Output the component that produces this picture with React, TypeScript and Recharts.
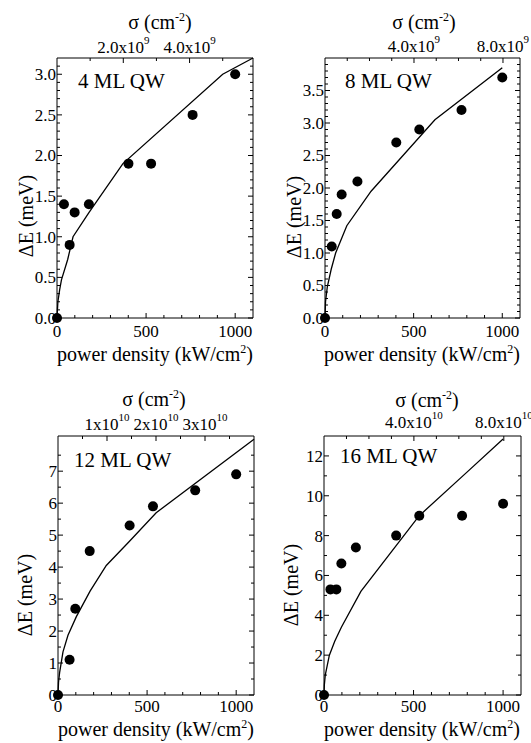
import React from 'react';
import { ComposedChart, Line, Scatter, XAxis, YAxis } from 'recharts';

const FONT = '"Liberation Serif", "Times New Roman", serif';

// measured points (power density kW/cm2, shift meV)
const pd4 = [0, 39, 71, 99, 179, 401, 528, 761, 1000];
const dE4 = [0, 1.4, 0.9, 1.3, 1.4, 1.9, 1.9, 2.5, 3.0];
const pd8 = [0, 38, 66, 94, 183, 402, 532, 770, 1000];
const dE8 = [0, 1.1, 1.6, 1.9, 2.1, 2.7, 2.9, 3.2, 3.7];
const pd12 = [0, 65, 97, 178, 402, 533, 770, 1000];
const dE12 = [0, 1.1, 2.7, 4.5, 5.3, 5.9, 6.4, 6.9];
const pd16 = [0, 36, 69, 97, 178, 403, 532, 771, 1000];
const dE16 = [0, 5.3, 5.3, 6.6, 7.4, 8.0, 9.0, 9.0, 9.6];

// calculated curves
const fitPd4 = [0, 5, 15, 25, 60, 90, 180, 370, 930, 1100];
const fitE4 = [0, 0.2, 0.35, 0.47, 0.72, 1.0, 1.3, 1.9, 3.0, 3.2];
const fitPd8 = [0, 3, 13, 35, 60, 123, 260, 620, 1000];
const fitE8 = [0, 0.25, 0.48, 0.75, 1.0, 1.42, 1.95, 3.05, 3.85];
const fitPd12 = [0, 3, 9, 28, 56, 103, 180, 271, 400, 551, 1100];
const fitE12 = [0, 0.4, 0.7, 1.35, 1.87, 2.45, 3.25, 4.05, 4.8, 5.7, 8.0];
const fitPd16 = [0, 2, 7, 30, 60, 97, 206, 532, 800, 1000];
const fitE16 = [0, 0.5, 1.0, 2.0, 2.7, 3.4, 5.2, 9.0, 11.2, 12.85];

const range = (a: number, b: number, s: number) => {
  const out: number[] = [];
  for (let v = a; v <= b + 1e-9; v += s) out.push(Math.round(v * 1000) / 1000);
  return out;
};
const pdTicks = range(0, 1000, 100);
const pdMajors = [0, 500, 1000];

const yMajors4 = [0, 0.5, 1.0, 1.5, 2.0, 2.5, 3.0];
const yMajors8 = [0, 0.5, 1.0, 1.5, 2.0, 2.5, 3.0, 3.5];
const yMajors12 = [0, 1, 2, 3, 4, 5, 6, 7];
const yMajors16 = [0, 2, 4, 6, 8, 10, 12];

// top axis: sigma (cm^-2), 1e9 units (4, 8 ML) or 1e10 units (12, 16 ML)
const sigTicks4 = [1, 2, 3, 4, 5];
const sigMajors4 = [2, 4];
const sigLabels4 = ['2.0x10|9', '4.0x10|9'];
const sigTicks8 = [1, 2, 3, 4, 5, 6, 7, 8];
const sigMajors8 = [4, 8];
const sigLabels8 = ['4.0x10|9', '8.0x10|9'];
const sigTicks12 = [0.5, 1, 1.5, 2, 2.5, 3, 3.5];
const sigMajors12 = [1, 2, 3];
const sigLabels12 = ['1x10|10', '2x10|10', '3x10|10'];
const sigTicks16 = [1, 2, 3, 4, 5, 6, 7, 8];
const sigMajors16 = [4, 8];
const sigLabels16 = ['4.0x10|10', '8.0x10|10'];
// kW/cm2 per sigma unit
const sigScale = [186, 125.5, 275, 125.5];

const near = (arr: number[], v: number) => arr.findIndex((m) => Math.abs(m - v) < 1e-6);

const panels = [
  {
    name: '4 ML QW', pd: pd4, dE: dE4, fitPd: fitPd4, fitE: fitE4,
    box: { x: 0, y: 0, w: 265, h: 372 }, plot: { l: 57, t: 58, r: 253, b: 318 },
    yDomain: [0, 3.2], yTicks: range(0, 3.1, 0.1), yMajors: yMajors4, dec: 1,
    k: sigScale[0], sigTicks: sigTicks4, sigMajors: sigMajors4, sigLabels: sigLabels4,
    sigX: 160, sigY: 29, topLabY: 53, botX: 155, botY: 361, yTX: 33, yTY: 216, annX: 78, annY: 88, tickY: 337,
  },
  {
    name: '8 ML QW', pd: pd8, dE: dE8, fitPd: fitPd8, fitE: fitE8,
    box: { x: 265, y: 0, w: 266, h: 372 }, plot: { l: 325, t: 58, r: 520, b: 318 },
    yDomain: [0, 4.0], yTicks: range(0, 3.9, 0.1), yMajors: yMajors8, dec: 1,
    k: sigScale[1], sigTicks: sigTicks8, sigMajors: sigMajors8, sigLabels: sigLabels8,
    sigX: 424, sigY: 29, topLabY: 52, botX: 422, botY: 361, yTX: 301, yTY: 217, annX: 345, annY: 88, tickY: 337,
  },
  {
    name: '12 ML QW', pd: pd12, dE: dE12, fitPd: fitPd12, fitE: fitE12,
    box: { x: 0, y: 372, w: 265, h: 371 }, plot: { l: 58, t: 436, r: 254, b: 695 },
    yDomain: [0, 8.1], yTicks: range(0, 7.5, 0.5), yMajors: yMajors12, dec: 0,
    k: sigScale[2], sigTicks: sigTicks12, sigMajors: sigMajors12, sigLabels: sigLabels12,
    sigX: 154, sigY: 406, topLabY: 430, botX: 156, botY: 736, yTX: 32, yTY: 595, annX: 74, annY: 467, tickY: 712,
  },
  {
    name: '16 ML QW', pd: pd16, dE: dE16, fitPd: fitPd16, fitE: fitE16,
    box: { x: 265, y: 372, w: 266, h: 371 }, plot: { l: 324, t: 436, r: 521, b: 695 },
    yDomain: [0, 13], yTicks: range(0, 12, 1), yMajors: yMajors16, dec: 0,
    k: sigScale[3], sigTicks: sigTicks16, sigMajors: sigMajors16, sigLabels: sigLabels16,
    sigX: 427, sigY: 407, topLabY: 428, botX: 422, botY: 736, yTX: 298, yTY: 585, annX: 340, annY: 463, tickY: 712,
  },
];

const MAJ = 5;
const MIN = 3;
const TICK_FS = 17;
const txt = { fontFamily: FONT, fill: '#000' };

function BottomTick(t: any) {
  const v = t.payload?.value;
  const major = near(pdMajors, v) >= 0;
  return (
    <g>
      <line x1={t.x} x2={t.x} y1={t.y} y2={t.y - (major ? MAJ : MIN)} stroke="#000" />
      {major && (
        <text x={t.x} y={t.labelY} textAnchor="middle" fontSize={TICK_FS} style={txt}>
          {v}
        </text>
      )}
    </g>
  );
}

function TopTick(t: any) {
  const s = t.payload?.value / t.k;
  const idx = near(t.majors, s);
  const parts = idx >= 0 ? t.labels[idx].split('|') : null;
  return (
    <g>
      <line x1={t.x} x2={t.x} y1={t.y} y2={t.y + (parts ? MAJ : MIN)} stroke="#000" />
      {parts && (
        <text x={t.x} y={t.labelY} textAnchor="middle" fontSize={TICK_FS} style={txt}>
          {parts[0]}
          <tspan dy={-9} fontSize={11}>{parts[1]}</tspan>
        </text>
      )}
    </g>
  );
}

function LeftTick(t: any) {
  const v = t.payload?.value;
  const major = near(t.majors, v) >= 0;
  return (
    <g>
      <line x1={t.x} x2={t.x + (major ? MAJ : MIN)} y1={t.y} y2={t.y} stroke="#000" />
      {major && (
        <text x={t.x - 1} y={t.y} dy="0.35em" textAnchor="end" fontSize={TICK_FS} style={txt}>
          {v.toFixed(t.dec)}
        </text>
      )}
    </g>
  );
}

function RightTick(t: any) {
  const major = near(t.majors, t.payload?.value) >= 0;
  return <line x1={t.x} x2={t.x - (major ? MAJ : MIN)} y1={t.y} y2={t.y} stroke="#000" />;
}

// axis titles and panel names, drawn on a layer beneath the charts
function TitleLayer() {
  return (
    <svg width={531} height={743} style={{ position: 'absolute', left: 0, top: 0 }}>
      {panels.map((p) => (
        <g key={p.name}>
          <text x={p.sigX} y={p.sigY} textAnchor="middle" fontSize={20} style={txt}>
            σ (cm
            <tspan dy={-8} fontSize={12}>-2</tspan>
            <tspan dy={8}>)</tspan>
          </text>
          <text x={p.annX} y={p.annY} fontSize={21} style={txt}>
            {p.name}
          </text>
          <text x={p.botX} y={p.botY} textAnchor="middle" fontSize={20} style={txt}>
            power density (kW/cm
            <tspan dy={-8} fontSize={12}>2</tspan>
            <tspan dy={8}>)</tspan>
          </text>
          <text
            x={p.yTX}
            y={p.yTY}
            transform={`rotate(-90 ${p.yTX} ${p.yTY})`}
            textAnchor="middle"
            fontSize={20}
            style={txt}
          >
            ΔE (meV)
          </text>
        </g>
      ))}
    </svg>
  );
}

function Panel({ p }: { p: any }) {
  const { box, plot } = p;
  const ox = box.x;
  const oy = box.y;
  const leftW = plot.l - ox;
  const topH = plot.t - oy;
  const rightGap = ox + box.w - plot.r;
  const bottomH = oy + box.h - plot.b;
  const pts = p.pd.map((x: number, i: number) => ({ x, y: p.dE[i] }));
  const fit = p.fitPd.map((x: number, i: number) => ({ x, y: p.fitE[i] }));
  const topTicks = p.sigTicks.map((s: number) => s * p.k);

  return (
    <div style={{ position: 'absolute', left: ox, top: oy, width: box.w, height: box.h }}>
      <ComposedChart width={box.w} height={box.h} margin={{ top: 0, right: rightGap - 1, bottom: 0, left: 0 }}>
        <XAxis
          dataKey="x"
          type="number"
          domain={[0, 1100]}
          ticks={pdTicks}
          interval={0}
          tickSize={0}
          tickMargin={0}
          tickLine={false}
          height={bottomH}
          axisLine={{ stroke: '#000' }}
          tick={<BottomTick labelY={p.tickY - oy} />}
        />
        <XAxis
          xAxisId="top"
          orientation="top"
          dataKey="x"
          type="number"
          domain={[0, 1100]}
          ticks={topTicks}
          interval={0}
          tickSize={0}
          tickMargin={0}
          tickLine={false}
          height={topH}
          axisLine={{ stroke: '#000' }}
          tick={<TopTick labelY={p.topLabY - oy} k={p.k} majors={p.sigMajors} labels={p.sigLabels} />}
        />
        <YAxis
          dataKey="y"
          type="number"
          domain={p.yDomain}
          ticks={p.yTicks}
          interval={0}
          tickSize={0}
          tickMargin={0}
          tickLine={false}
          width={leftW}
          axisLine={{ stroke: '#000' }}
          tick={<LeftTick majors={p.yMajors} dec={p.dec} />}
        />
        <YAxis
          yAxisId="right"
          orientation="right"
          dataKey="y"
          type="number"
          domain={p.yDomain}
          ticks={p.yTicks}
          interval={0}
          tickSize={0}
          tickMargin={0}
          tickLine={false}
          width={1}
          axisLine={{ stroke: '#000' }}
          tick={<RightTick majors={p.yMajors} />}
        />
        <Line
          xAxisId="top"
          yAxisId="right"
          data={fit}
          dataKey="y"
          type="linear"
          stroke="#000"
          strokeWidth={1.3}
          dot={false}
          activeDot={false}
          isAnimationActive={false}
        />
        <Scatter
          data={pts}
          dataKey="y"
          isAnimationActive={false}
          shape={(s: any) => <circle cx={s.cx} cy={s.cy} r={5} fill="#000" />}
        />
      </ComposedChart>
    </div>
  );
}

export default function App() {
  return (
    <div style={{ position: 'absolute', left: 0, top: 0, width: 531, height: 743, background: '#fff' }}>
      <TitleLayer />
      {panels.map((p) => (
        <Panel key={p.name} p={p} />
      ))}
    </div>
  );
}
